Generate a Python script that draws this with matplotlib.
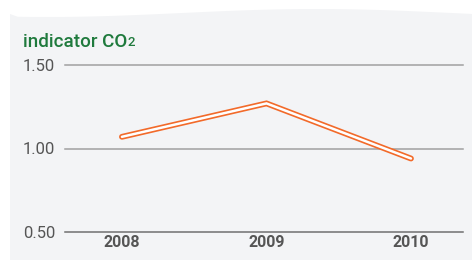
import matplotlib
matplotlib.use("Agg")
import matplotlib.pyplot as plt
from matplotlib.patches import Polygon
import numpy as np

years = ["2008", "2009", "2010"]
co2 = [1.07, 1.27, 0.94]
yticks = [0.50, 1.00, 1.50]

orange = "#f26a2a"
green = "#1f7a3d"
grey_txt = "#555555"
panel = "#f3f4f6"

plt.rcParams["font.family"] = ["Roboto", "DejaVu Sans"]

fig = plt.figure(figsize=(4.72, 2.60), dpi=100)
fig.patch.set_facecolor("white")

# wavy grey panel behind the chart
xs = np.linspace(10 / 472, 1.0, 60)
top = 1 - (13 + 4 * np.cos((xs - 0.1) * 5.5)) / 260
top[0] = 1 - 14 / 260
poly = np.column_stack([np.r_[xs, 1.0, 10 / 472], np.r_[top, 0.0, 0.0]])
fig.patches.append(Polygon(poly, closed=True, transform=fig.transFigure,
                           facecolor=panel, edgecolor="none", zorder=-5))

ax = fig.add_axes([65 / 472, 1 - 232 / 260, (463 - 65) / 472, (232 - 65) / 260])
ax.set_facecolor("none")
x = np.arange(len(years))

ax.plot(x, co2, color=orange, lw=4.2, solid_capstyle="round", solid_joinstyle="miter", zorder=3)
ax.plot(x, co2, color="white", lw=1.8, solid_capstyle="round", solid_joinstyle="miter", zorder=4)

ax.set_xlim(-0.394, 2.36)
ax.set_ylim(0.5, 1.5)
for v in yticks:
    ax.axhline(v, color="#707070" if v == 0.5 else "#a0a0a0", lw=1.1, zorder=1, clip_on=False)
ax.set_yticks(yticks)
ax.set_yticklabels([f"{v:.2f}" for v in yticks], color=grey_txt, fontsize=12)
ax.set_xticks(x)
ax.set_xticklabels(years, color=grey_txt, fontsize=11.5, fontweight="bold")
ax.tick_params(length=0, axis="y", pad=7)
ax.tick_params(length=0, axis="x", pad=2)
for s in ax.spines.values():
    s.set_visible(False)

t = fig.text(23 / 472, 1 - 42 / 260, "indicator CO", color=green, fontsize=13.5,
             fontweight="medium", va="center", ha="left")
fig.canvas.draw()
bb = t.get_window_extent()
fig.text(bb.x1 / 472 + 0.001, 1 - 43 / 260, "2", color=green, fontsize=9.5,
         fontweight="medium", va="center", ha="left")

fig.savefig("out.png", dpi=100)
